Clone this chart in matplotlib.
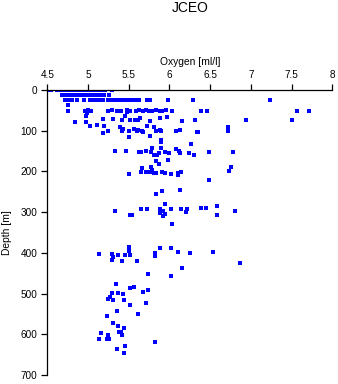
#!/usr/bin/env python3
# -*- coding: utf-8 -*-
"""Oxygen vs depth scatter for JCEO station data."""

import matplotlib
matplotlib.use("Agg")
import matplotlib.pyplot as plt

# surface samples (0 - 15 m)
surf_oxygen = [4.49, 4.52, 4.55, 4.62, 4.64, 4.66, 4.68, 4.70, 4.72, 4.74, 4.76,
               4.78, 4.80, 4.82, 4.84, 4.86, 4.88, 4.90, 4.92, 4.94, 4.96, 4.98,
               5.00, 5.05, 5.08, 5.12, 5.17, 5.21, 5.29,
               4.68, 4.70, 4.72, 4.74, 4.76, 4.78, 4.80, 4.82, 4.84, 4.86, 4.88,
               4.90, 4.92, 4.94, 4.96, 4.98, 5.00, 5.04, 5.07, 5.10, 5.15, 5.20, 5.26]
surf_depth = [0, 0, 0, 0, 0, 0, 0, 0, 0, 0, 0,
              0, 0, 0, 0, 0, 0, 0, 0, 0, 0, 0,
              0, 0, 0, 0, 0, 0, 0,
              12, 12, 12, 12, 12, 12, 12, 12, 12, 12, 12,
              12, 12, 12, 12, 12, 12, 12, 12, 12, 12, 12, 12]

# upper layer (25 - 60 m)
upper_oxygen = [4.72, 4.77, 4.80, 4.87, 4.95, 5.02, 5.05, 5.08, 5.12, 5.15, 5.19,
                5.24, 5.27, 5.30, 5.33, 5.36, 5.39, 5.42, 5.45, 5.48, 5.51, 5.54,
                5.57, 5.60, 5.63, 5.73, 5.76, 5.98, 6.29, 7.23,
                4.75,
                4.76, 4.96, 5.00, 5.04, 5.24, 5.29, 5.35, 5.41, 5.48, 5.52, 5.59,
                5.63, 5.67, 5.71, 5.75, 5.79, 5.84, 5.88, 5.91, 5.96, 6.03, 6.39,
                6.46, 7.57, 7.71, 4.99, 5.48, 4.97, 5.46]
upper_depth = [26, 26, 26, 26, 26, 26, 26, 26, 26, 26, 26,
               26, 26, 26, 26, 26, 26, 26, 26, 26, 26, 26,
               26, 26, 26, 26, 26, 26, 26, 26,
               38,
               52, 51, 50, 52, 51, 50, 52, 51, 50, 53, 51,
               50, 51, 50, 52, 51, 50, 52, 51, 50, 51, 51,
               52, 51, 51, 56, 55, 63, 63]

# 65 - 135 m
mid_oxygen = [4.84, 4.98, 5.19, 5.31, 5.42, 5.52, 5.58, 5.62, 5.64, 5.76, 5.88,
              5.97, 6.15, 6.31, 6.94, 7.50,
              5.03, 5.11, 5.20, 5.39, 5.43, 5.50, 5.56, 5.61, 5.68, 5.73, 5.81,
              5.88, 5.83, 6.13, 5.19, 5.24, 5.42, 5.60, 5.66, 5.90, 6.08, 6.35,
              6.72, 6.72, 6.34,
              5.50, 5.76, 5.90, 5.90, 6.27, 6.27]
mid_depth = [78, 78, 72, 72, 74, 74, 73, 74, 70, 76, 68,
             67, 76, 73, 75, 75,
             88, 86, 88, 90, 96, 101, 95, 99, 103, 88, 90,
             99, 101, 99, 106, 101, 100, 100, 100, 100, 100, 103,
             92, 100, 103,
             115, 114, 124, 128, 133, 134]

# 140 - 340 m
deep_oxygen = [5.33, 5.47, 5.63, 5.65, 5.71, 5.77, 5.79, 5.81, 5.85, 5.87, 5.90,
               5.95, 5.99, 6.08, 6.12, 6.13, 6.24, 6.30, 6.48, 6.78,
               5.84, 5.87, 5.98, 5.66, 5.77, 6.76, 6.73,
               5.50, 5.65, 5.71, 5.76, 5.79, 5.81, 5.83, 5.91, 5.94, 6.02, 6.10,
               6.11, 6.14, 6.49,
               5.84, 5.91, 6.13, 5.94, 6.58,
               5.33, 5.65, 5.73, 5.88, 5.92, 6.02, 6.14, 6.20, 6.22, 6.39, 6.45,
               6.58, 6.81, 5.52, 5.54, 5.88, 5.92, 5.94, 6.03]
deep_depth = [151, 151, 152, 152, 151, 152, 143, 159, 159, 156, 143,
              152, 156, 144, 151, 156, 156, 159, 152, 153,
              174, 181, 171, 191, 189, 189, 200,
              206, 202, 202, 201, 197, 205, 205, 201, 205, 206, 204,
              210, 201, 220,
              255, 249, 245, 279, 284,
              296, 292, 293, 293, 298, 293, 293, 300, 292, 291, 291,
              306, 298, 306, 307, 303, 310, 304, 330]

# 380 - 650 m
bottom_oxygen = [5.50, 5.50, 5.89, 6.02, 6.11, 6.53, 5.13, 5.30, 5.37, 5.46, 5.52,
                 5.82, 5.82, 6.25, 5.31, 5.29, 5.42, 5.60, 6.87,
                 6.15, 5.74, 6.02,
                 5.34, 5.52, 5.56, 5.74, 5.67, 5.29, 5.37, 5.43, 5.27, 5.25, 5.31,
                 5.44, 5.71, 5.52, 5.36, 5.62, 5.23, 5.31, 5.37, 5.44, 5.16, 5.24,
                 5.38, 5.40, 5.42, 5.13, 5.23, 5.26, 5.82, 5.45, 5.35, 5.44]
bottom_depth = [386, 396, 387, 387, 397, 399, 403, 402, 404, 406, 405,
                401, 407, 401, 411, 418, 420, 421, 424,
                436, 452, 456,
                477, 485, 483, 491, 497, 499, 499, 501, 507, 512, 516,
                516, 522, 529, 543, 550, 556, 572, 579, 585, 597, 601,
                595, 595, 601, 611, 611, 611, 619, 628, 637, 646]

X_TICKS = [4.5, 5, 5.5, 6, 6.5, 7, 7.5, 8]
X_TICK_LABELS = ["4.5", "5", "5.5", "6", "6.5", "7", "7.5", "8"]
Y_TICKS = [0, 100, 200, 300, 400, 500, 600, 700]


def main() -> None:
    plt.rcParams["font.family"] = ["Liberation Sans", "DejaVu Sans"]

    fig = plt.figure(figsize=(3.38, 3.84), dpi=100)
    ax = fig.add_axes([0.140, 0.023, 0.843, 0.743])

    oxygen = surf_oxygen + upper_oxygen + mid_oxygen + deep_oxygen + bottom_oxygen
    depth = surf_depth + upper_depth + mid_depth + deep_depth + bottom_depth
    ax.plot(oxygen, depth, linestyle="none", marker="s", markersize=2.2,
            color="#0000ff", markeredgewidth=0, antialiased=False)

    ax.set_xlim(4.5, 8)
    ax.set_ylim(700, 0)
    ax.xaxis.set_ticks_position("top")
    ax.xaxis.set_label_position("top")
    ax.set_xticks(X_TICKS)
    ax.set_xticklabels(X_TICK_LABELS)
    ax.set_yticks(Y_TICKS)

    for side in ("right", "bottom"):
        ax.spines[side].set_visible(False)
    for side in ("left", "top"):
        ax.spines[side].set_linewidth(0.9)
    ax.tick_params(direction="out", length=4, width=0.9, labelsize=7.2, pad=3)

    ax.set_xlabel("Oxygen [ml/l]", fontsize=7.4, labelpad=4)
    ax.set_ylabel("Depth [m]", fontsize=7.4, labelpad=6)
    fig.text(0.562, 0.978, "JCEO", ha="center", va="center", fontsize=10)

    fig.savefig("out.png", dpi=100)


if __name__ == "__main__":
    main()
